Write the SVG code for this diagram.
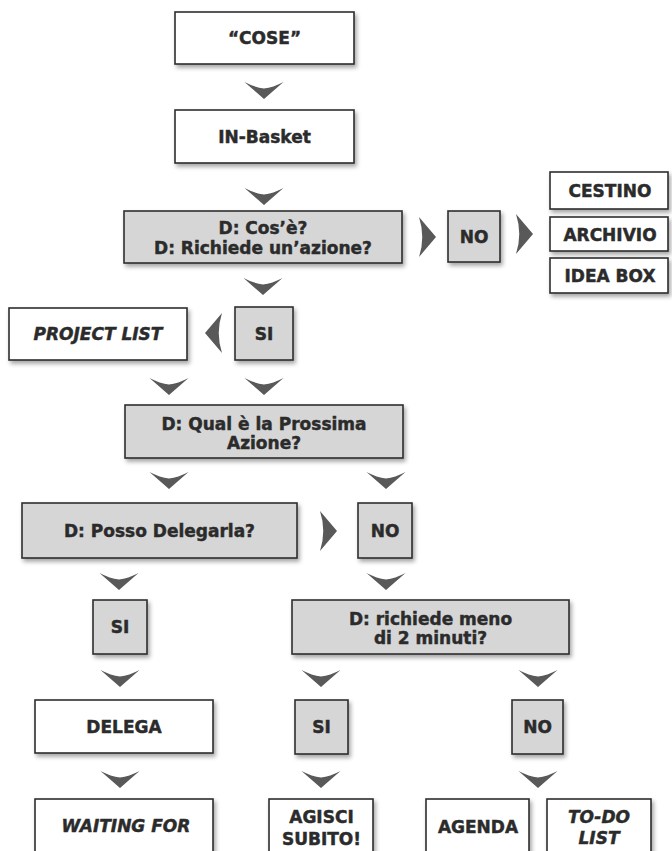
<svg xmlns="http://www.w3.org/2000/svg" width="672" height="851" viewBox="0 0 672 851">
<style>
.w{fill:#ffffff;stroke:#2e2e2e;stroke-width:1.6}
.g{fill:#d6d6d6;stroke:#2e2e2e;stroke-width:1.6}
text{font-family:"DejaVu Sans","Liberation Sans",sans-serif;font-weight:bold;font-size:17px;fill:#2b2b2b;stroke:#2b2b2b;stroke-width:0.45;text-anchor:middle}
.it{font-style:italic}
.ch{fill:#595959}
</style>
<defs>
<filter id="sh" x="-10%" y="-20%" width="125%" height="150%">
<feDropShadow dx="2" dy="3" stdDeviation="2" flood-color="#000" flood-opacity="0.35"/>
</filter>
<path id="dn" d="M-19.5,0 Q-9,5.5 0,6.5 Q9,5.5 19.5,0 L0,17 Z"/>
<path id="rt" d="M0,0 L17,20 L0,40 Q6.5,20 0,0 Z"/>
</defs>

<g id="connectors" class="ch">
<use href="#dn" x="264" y="82"/>
<use href="#dn" x="264" y="188"/>
<use href="#dn" x="263" y="278"/>
<use href="#rt" x="419" y="217"/>
<use href="#rt" x="516" y="214"/>
<use href="#rt" transform="translate(222,313) scale(-1,1)"/>
<use href="#dn" x="169" y="378"/>
<use href="#dn" x="264" y="378"/>
<use href="#dn" x="169" y="472"/>
<use href="#dn" x="386" y="472"/>
<use href="#rt" x="320" y="511"/>
<use href="#dn" x="119" y="573"/>
<use href="#dn" x="386" y="573"/>
<use href="#dn" x="120" y="670"/>
<use href="#dn" x="321" y="670"/>
<use href="#dn" x="538" y="670"/>
<use href="#dn" x="120" y="771"/>
<use href="#dn" x="321" y="771"/>
<use href="#dn" x="538" y="771"/>
</g>

<g id="cose"><rect class="w" filter="url(#sh)" x="175" y="12" width="179" height="52"/><text x="264.5" y="44">“COSE”</text></g>
<g id="inbasket"><rect class="w" filter="url(#sh)" x="175" y="110" width="179" height="53"/><text x="264.5" y="142.5">IN-Basket</text></g>
<g id="cosa"><rect class="g" filter="url(#sh)" x="124" y="211" width="278" height="52"/><text x="263" y="234">D: Cos’è?</text><text x="263" y="254">D: Richiede un’azione?</text></g>
<g id="no1"><rect class="g" filter="url(#sh)" x="448" y="211" width="52" height="51"/><text x="474" y="242.5">NO</text></g>
<g id="cestino"><rect class="w" filter="url(#sh)" x="550" y="172" width="118" height="37"/><text x="610" y="196.5">CESTINO</text></g>
<g id="archivio"><rect class="w" filter="url(#sh)" x="550" y="217" width="118" height="34"/><text x="610" y="240.5">ARCHIVIO</text></g>
<g id="ideabox"><rect class="w" filter="url(#sh)" x="550" y="258" width="118" height="35"/><text x="610" y="281.5">IDEA BOX</text></g>
<g id="projectlist"><rect class="w" filter="url(#sh)" x="9" y="308" width="178" height="52"/><text class="it" x="98" y="340">PROJECT LIST</text></g>
<g id="si1"><rect class="g" filter="url(#sh)" x="235" y="307" width="58" height="53"/><text x="264" y="339.5">SI</text></g>
<g id="prossima"><rect class="g" filter="url(#sh)" x="125" y="405" width="278" height="53"/><text x="264" y="430">D: Qual è la Prossima</text><text x="264" y="449">Azione?</text></g>
<g id="delegarla"><rect class="g" filter="url(#sh)" x="22" y="503" width="275" height="55"/><text x="159.5" y="536.5">D: Posso Delegarla?</text></g>
<g id="no2"><rect class="g" filter="url(#sh)" x="358" y="503" width="54" height="55"/><text x="385" y="536.5">NO</text></g>
<g id="si2"><rect class="g" filter="url(#sh)" x="93" y="600" width="54" height="54"/><text x="120" y="633">SI</text></g>
<g id="dueminuti"><rect class="g" filter="url(#sh)" x="292" y="600" width="277" height="54"/><text x="430.5" y="624.5">D: richiede meno</text><text x="430.5" y="644">di 2 minuti?</text></g>
<g id="delega"><rect class="w" filter="url(#sh)" x="35" y="700" width="178" height="53"/><text x="124" y="733">DELEGA</text></g>
<g id="si3"><rect class="g" filter="url(#sh)" x="295" y="700" width="53" height="54"/><text x="321.5" y="733">SI</text></g>
<g id="no3"><rect class="g" filter="url(#sh)" x="512" y="700" width="51" height="54"/><text x="537.5" y="733">NO</text></g>
<g id="waitingfor"><rect class="w" filter="url(#sh)" x="35" y="799" width="178" height="72"/><text class="it" x="126" y="832">WAITING FOR</text></g>
<g id="agisci"><rect class="w" filter="url(#sh)" x="269" y="799" width="104" height="72"/><text x="321.5" y="823">AGISCI</text><text x="321.5" y="845">SUBITO!</text></g>
<g id="agenda"><rect class="w" filter="url(#sh)" x="426" y="799" width="103" height="72"/><text x="478" y="833">AGENDA</text></g>
<g id="todo"><rect class="w" filter="url(#sh)" x="547" y="799" width="104" height="72"/><text class="it" x="599" y="823">TO-DO</text><text class="it" x="599" y="844">LIST</text></g>
</svg>
